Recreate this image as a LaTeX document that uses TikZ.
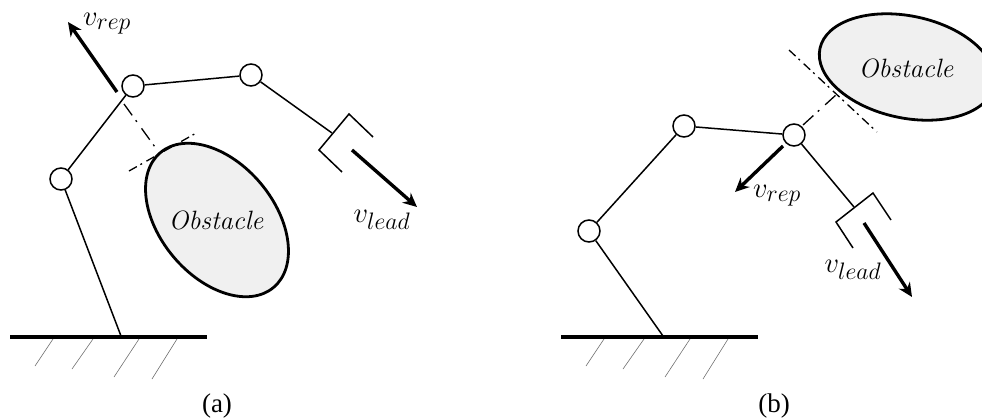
\documentclass[tikz,border=0pt]{standalone}
\usepackage{fontspec}
\usepackage{amsmath}
\usetikzlibrary{
  arrows.meta,
  shapes.geometric,
  positioning
}
\newfontfamily\capfont{Liberation Serif}
\definecolor{obFill}{HTML}{F0F0F0}
\definecolor{obHatch}{HTML}{707070}
\tikzset{
  joint/.style={draw, circle, fill=white, minimum size=22pt, inner sep=0pt, line width=1.5pt},
  link/.style={line width=1.5pt},
  ground/.style={line width=3.4pt},
  hatch/.style={line width=0.6pt, obHatch},
  obstacle/.style={draw, ellipse, fill=obFill, line width=2.8pt, inner sep=0pt},
  oblabel/.style={font=\fontsize{26.5}{26.5}\selectfont\itshape},
  vel/.style={-{Stealth[length=14pt, width=13pt]}, line width=3.4pt},
  vlabel/.style={font=\fontsize{24.88}{25}\selectfont, scale=1.15},
  normalline/.style={line width=1.3pt, dash pattern=on 14pt off 6pt on 2pt off 8pt},
  tangentline/.style={line width=1.3pt, dash pattern=on 9pt off 4pt on 2pt off 5pt},
  sublabel/.style={font=\fontsize{27}{27}\selectfont\capfont}
}
\begin{document}
\begin{tikzpicture}[x=1pt, y=-1pt]
  \useasboundingbox (0,0) rectangle (982,418);
  \node[obstacle, minimum width=176pt, minimum height=114pt, rotate=-50] (obsa) at (217,220) {};
  \node[oblabel] (obsatext) at (216,220) {Obstacle};
  \node[obstacle, minimum width=178pt, minimum height=102pt, rotate=-12] (obsb) at (907,67) {};
  \node[oblabel] (obsbtext) at (906,68) {Obstacle};

  % ground
  \foreach \gx in {0,551}{
    \draw[ground] (\gx+10,337) -- (\gx+207,337);
    \foreach \xa/\xb/\yb in {53/35/366, 93/72/369, 139/114/377, 177/152/379}{
      \draw[hatch] (\gx+\xa,339) -- (\gx+\xb,\yb);
    }
  }

  % arm (a)
  \node[joint] (ja1) at (61,179) {};
  \node[joint] (ja2) at (133,86) {};
  \node[joint] (ja3) at (251,75) {};
  \coordinate (basea) at (121,336);
  \coordinate (wrista) at (332,133);
  \coordinate (palma1) at (349,114);
  \coordinate (palma2) at (319,150);
  \coordinate (tipa1) at (373,137);
  \coordinate (tipa2) at (342,172);
  \draw[link] (basea) -- (ja1);
  \draw[link] (ja1) -- (ja2);
  \draw[link] (ja2) -- (ja3);
  \draw[link] (ja3) -- (wrista);
  \draw[link] (tipa1) -- (palma1) -- (palma2) -- (tipa2);
  \coordinate (repa1) at (117,92);
  \coordinate (repa2) at (68,22);
  \coordinate (leada1) at (352,150);
  \coordinate (leada2) at (417,207);
  \draw[vel] (repa1) -- (repa2);
  \draw[vel] (leada1) -- (leada2);
  \node[vlabel] (vrepa) at (107,24) {$v_{rep}$};
  \node[vlabel] (vleada) at (382,220) {$v_{lead}$};
  \coordinate (norma1) at (124,104);
  \coordinate (norma2) at (155,147);
  \coordinate (tana1) at (129,171);
  \coordinate (tana2) at (198,132);
  \draw[normalline] (norma1) -- (norma2);
  \draw[tangentline] (tana1) -- (tana2);
  \node[sublabel] (capa) at (217,406) {(a)};

  % arm (b)
  \node[joint] (jb1) at (589,231) {};
  \node[joint] (jb2) at (684,126) {};
  \node[joint] (jb3) at (794,135) {};
  \coordinate (baseb) at (663,336);
  \coordinate (wristb) at (854,207);
  \coordinate (palmb1) at (873,193);
  \coordinate (palmb2) at (836,222);
  \coordinate (tipb1) at (891,220);
  \coordinate (tipb2) at (853,248);
  \draw[link] (baseb) -- (jb1);
  \draw[link] (jb1) -- (jb2);
  \draw[link] (jb2) -- (jb3);
  \draw[link] (jb3) -- (wristb);
  \draw[link] (tipb1) -- (palmb1) -- (palmb2) -- (tipb2);
  \coordinate (repb1) at (783,146);
  \coordinate (repb2) at (735,192);
  \coordinate (leadb1) at (864,223);
  \coordinate (leadb2) at (912,297);
  \draw[vel] (repb1) -- (repb2);
  \draw[vel] (leadb1) -- (leadb2);
  \node[vlabel] (vrepb) at (777,196) {$v_{rep}$};
  \node[vlabel] (vleadb) at (853,270) {$v_{lead}$};
  \coordinate (normb1) at (803,125);
  \coordinate (normb2) at (837,94);
  \coordinate (tanb1) at (789,50);
  \coordinate (tanb2) at (877,132);
  \draw[normalline] (normb1) -- (normb2);
  \draw[tangentline] (tanb1) -- (tanb2);
  \node[sublabel] (capb) at (774,406) {(b)};
\end{tikzpicture}
\end{document}
